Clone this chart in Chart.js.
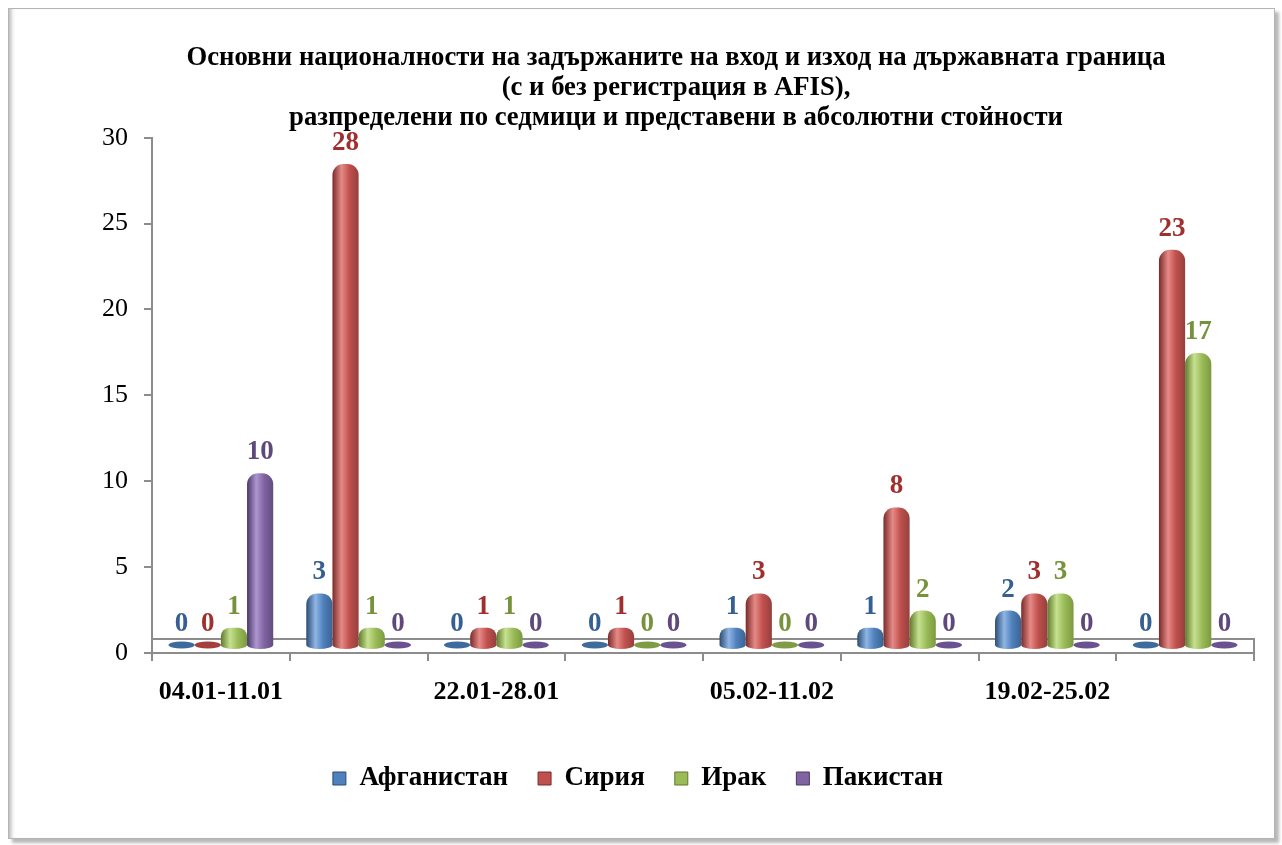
<!DOCTYPE html>
<html lang="bg">
<head>
<meta charset="UTF-8">
<title>Основни националности на задържаните</title>
<script src="https://cdn.jsdelivr.net/npm/chart.js@4"></script>
<style>
  html, body { margin: 0; padding: 0; background: #fff; }
  body { width: 1282px; height: 845px; overflow: hidden; position: relative; }
  #frame {
    position: absolute; left: 8px; top: 8px; width: 1265px; height: 829px;
    border: 1px solid #b5b5b5;
    box-shadow: 4px 4px 3px rgba(0, 0, 0, 0.28), inset 5px 0 4px -3px rgba(0, 0, 0, 0.3);
  }
  #wrap { position: absolute; left: 0; top: 0; width: 1282px; height: 845px; }
</style>
</head>
<body>
<div id="frame"></div>
<div id="wrap"><canvas id="chart" width="1282" height="845"></canvas></div>
<script>
// weeks (only every second one is labelled on the axis)
const weeks = ['04.01-11.01', '12.01-21.01', '22.01-28.01', '29.01-04.02',
               '05.02-11.02', '12.02-18.02', '19.02-25.02', '26.02-04.03'];
const afghanistan = [0, 3, 0, 0, 1, 1, 2, 0];
const syria       = [0, 28, 1, 1, 3, 8, 3, 23];
const iraq        = [1, 1, 1, 0, 0, 2, 3, 17];
const pakistan    = [10, 0, 0, 0, 0, 0, 0, 0];
const seriesNames = ['Афганистан', 'Сирия', 'Ирак', 'Пакистан'];
const yTicks = [0, 5, 10, 15, 20, 25, 30];

const titleLines = [
  'Основни националности на задържаните на вход и изход на държавната граница',
  '(с и без регистрация в AFIS),',
  'разпределени по седмици и представени в абсолютни стойности'
];

const SERIF = '"Liberation Serif", "Times New Roman", serif';
const CAT_PCT = 0.76;
const PAD_LEFT = 98;
const LEGEND_SHIFT = -38;

const palette = [
  { base: '#4F81BD', dark: '#2B4C74', light: '#8FB5E4', edge: '#3A6391', flat: '#3F6B9C', label: '#376092' },
  { base: '#C0504D', dark: '#7A2A28', light: '#E58A87', edge: '#94403D', flat: '#A3403D', label: '#A0302D' },
  { base: '#9BBB59', dark: '#5E7A2C', light: '#C6E18F', edge: '#7A9A3E', flat: '#7F9B45', label: '#76923C' },
  { base: '#8064A2', dark: '#4A3768', light: '#AD96CF', edge: '#634C80', flat: '#6A5290', label: '#5F497A' }
];

function cylinderFill(ctx, p) {
  const chart = ctx.chart;
  const xs = chart.scales.x;
  if (!xs || !chart.chartArea || ctx.dataIndex === undefined) return p.base;
  const catW = (xs.right - xs.left) / weeks.length;
  const groupW = catW * CAT_PCT;
  const barW = groupW / seriesNames.length;
  const left = xs.getPixelForValue(ctx.dataIndex) - groupW / 2 + ctx.datasetIndex * barW;
  const g = chart.ctx.createLinearGradient(left, 0, left + barW, 0);
  g.addColorStop(0, p.dark);
  g.addColorStop(0.35, p.light);
  g.addColorStop(0.65, p.base);
  g.addColorStop(1, p.edge);
  return g;
}

// back edge of the 3D floor
const floorPlugin = {
  id: 'floor',
  afterLayout(chart) {
    // legend sits a bit left of the title's centre in the original
    chart.legend.left += LEGEND_SHIFT;
    chart.legend.right += LEGEND_SHIFT;
  },
  beforeDatasetsDraw(chart) {
    const { left, right, bottom } = chart.chartArea;
    const c = chart.ctx;
    c.save();
    c.strokeStyle = '#8c8c8c';
    c.lineWidth = 2;
    c.beginPath();
    c.moveTo(left, bottom - 14);
    c.lineTo(right, bottom - 14);
    c.lineTo(right, bottom);
    c.stroke();
    c.restore();
  }
};

// flat discs for zero values, rounded bottoms for the cylinders, value labels
const cylinderPlugin = {
  id: 'cylinders',
  afterDatasetsDraw(chart) {
    const c = chart.ctx;
    c.save();
    chart.data.datasets.forEach((ds, i) => {
      const p = palette[i];
      chart.getDatasetMeta(i).data.forEach((el, j) => {
        const r = el.width / 2;
        c.beginPath();
        if (ds.data[j] === 0) {
          c.ellipse(el.x, el.base, r, 3.5, 0, 0, Math.PI * 2);
          c.fillStyle = p.flat;
        } else {
          c.ellipse(el.x, el.base, r, 4, 0, 0, Math.PI);
          c.fillStyle = el.options.backgroundColor;
        }
        c.fill();
      });
    });
    c.font = 'bold 27px ' + SERIF;
    c.textAlign = 'center';
    c.textBaseline = 'middle';
    chart.data.datasets.forEach((ds, i) => {
      c.fillStyle = palette[i].label;
      chart.getDatasetMeta(i).data.forEach((el, j) => {
        c.fillText(String(ds.data[j]), el.x, el.y - 21);
      });
    });
    c.restore();
  }
};

const seriesData = [afghanistan, syria, iraq, pakistan];

const chart = new Chart(document.getElementById('chart'), {
  type: 'bar',
  data: {
    labels: weeks,
    datasets: seriesData.map((d, i) => ({
      label: seriesNames[i],
      data: d,
      yAxisID: 'yb',
      backgroundColor: (ctx) => cylinderFill(ctx, palette[i]),
      borderWidth: 0,
      borderRadius: { topLeft: 11, topRight: 11, bottomLeft: 0, bottomRight: 0 },
      borderSkipped: false,
      categoryPercentage: CAT_PCT,
      barPercentage: 1
    }))
  },
  options: {
    responsive: false,
    animation: false,
    devicePixelRatio: 1,
    layout: { padding: { left: PAD_LEFT, right: 28, top: 43, bottom: 43 } },
    plugins: {
      title: {
        display: true,
        text: titleLines,
        color: '#000',
        font: { family: SERIF, size: 26.7, weight: 'bold', lineHeight: 1.12 },
        padding: { top: 0, bottom: 5 }
      },
      legend: {
        position: 'bottom',
        labels: {
          color: '#000',
          font: { family: SERIF, size: 27, weight: 'bold' },
          boxWidth: 13,
          boxHeight: 13,
          padding: 30,
          generateLabels: () => seriesNames.map((n, i) => ({
            text: n,
            fillStyle: palette[i].base,
            strokeStyle: palette[i].dark,
            lineWidth: 1,
            datasetIndex: i
          }))
        }
      },
      tooltip: { enabled: false }
    },
    scales: {
      x: {
        grid: { drawOnChartArea: false, tickLength: 8, color: '#8c8c8c', lineWidth: 2, offset: true },
        border: { color: '#8c8c8c', width: 2 },
        ticks: {
          color: '#000',
          font: { family: SERIF, size: 26, weight: 'bold' },
          padding: 16,
          maxRotation: 0,
          autoSkip: false,
          callback: (v, i) => (i % 2 === 0 ? weeks[i] : '')
        },
        afterFit: (s) => { s.height = 82; }
      },
      y: {
        min: yTicks[0],
        max: yTicks[yTicks.length - 1],
        grid: { drawOnChartArea: false, tickLength: 8, color: '#8c8c8c', lineWidth: 2 },
        border: { color: '#8c8c8c', width: 2 },
        ticks: {
          stepSize: yTicks[1] - yTicks[0],
          color: '#000',
          font: { family: SERIF, size: 26 },
          padding: 16
        },
        afterFit: (s) => { s.width = 152 - PAD_LEFT; }
      },
      // bars sit a little back in the 3D depth of the floor
      yb: {
        display: false,
        min: yTicks[0] - 0.47,
        max: yTicks[yTicks.length - 1] - 0.47
      }
    }
  },
  plugins: [floorPlugin, cylinderPlugin]
});
chart.update('none');
</script>
</body>
</html>
